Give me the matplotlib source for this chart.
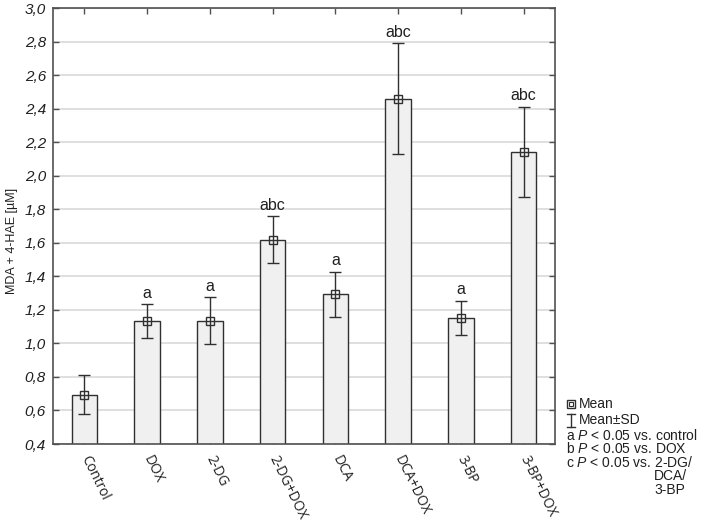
import matplotlib
matplotlib.use("Agg")
import matplotlib.pyplot as plt
from matplotlib.lines import Line2D
import numpy as np

plt.rcParams['font.family'] = ['Liberation Sans', 'DejaVu Sans']
plt.rcParams['mathtext.fontset'] = 'custom'
plt.rcParams['mathtext.it'] = 'Liberation Sans:italic'
plt.rcParams['mathtext.rm'] = 'Liberation Sans'

categories = ['Control', 'DOX', '2-DG', '2-DG+DOX', 'DCA', 'DCA+DOX', '3-BP', '3-BP+DOX']
means = [0.695, 1.132, 1.135, 1.618, 1.293, 2.460, 1.151, 2.143]
sds = [0.119, 0.101, 0.141, 0.139, 0.134, 0.330, 0.102, 0.268]
letters = ['', 'a', 'a', 'abc', 'a', 'abc', 'a', 'abc']
yticks = [0.4, 0.6, 0.8, 1.0, 1.2, 1.4, 1.6, 1.8, 2.0, 2.2, 2.4, 2.6, 2.8, 3.0]
ylabel = 'MDA + 4-HAE [\u00b5M]'
legend_lines = ['a $\\mathit{P}$ < 0.05 vs. control',
                'b $\\mathit{P}$ < 0.05 vs. DOX',
                'c $\\mathit{P}$ < 0.05 vs. 2-DG/']
legend_cont = ['DCA/', '3-BP']

W, H = 709, 526
fig = plt.figure(figsize=(W / 100, H / 100), dpi=100)
ax = fig.add_axes([53 / W, 1 - 444 / H, (555 - 53) / W, (444 - 8) / H])

spine_c = '#505050'
x = np.arange(len(categories))
ax.set_axisbelow(True)
ax.yaxis.grid(True, color='#d9d9d9', linewidth=1.2)
ax.bar(x, means, width=0.41, bottom=0, color='#f0f0f0', edgecolor='#303030', linewidth=1.0, zorder=2)
ax.errorbar(x, means, yerr=sds, fmt='s', markersize=5.5, markerfacecolor='none',
            markeredgecolor='#303030', markeredgewidth=1.0, ecolor='#303030',
            elinewidth=1.0, capsize=4, capthick=1.0, zorder=3)
for xi, m, s, lab in zip(x, means, sds, letters):
    if lab:
        ax.annotate(lab, (xi, m + s), xytext=(0, 2.5), textcoords='offset points',
                    ha='center', va='bottom', fontsize=11.5, color='#202020')

ax.set_xlim(-0.5, len(categories) - 0.5)
ax.set_ylim(0.4, 3.0)
ax.set_yticks(yticks)
ax.set_yticklabels([f'{v:.1f}'.replace('.', ',') for v in yticks],
                   fontsize=11, fontstyle='italic', color='#202020')
ax.set_xticks(x)
ax.set_xticklabels(categories, rotation=-64, ha='left', va='center',
                   rotation_mode='anchor', fontsize=10, family='Open Sans', color='#202020')
ax.tick_params(axis='both', direction='in', length=4, width=1, color=spine_c,
               top=True, right=True)
ax.tick_params(axis='x', pad=9)
ax.tick_params(axis='y', pad=5)
for sp in ax.spines.values():
    sp.set_color(spine_c)
    sp.set_linewidth(1.2)

fig.text(12 / W, 1 - 241 / H, ylabel, rotation=90, ha='center', va='center',
         fontsize=9, color='#202020')

# legend (manual, outside the axes)
def fy(py):
    return 1 - py / H

def fx(px):
    return px / W

fs_leg = 10
fig.add_artist(Line2D([fx(571)], [fy(404)], marker='s', markersize=5.5, markerfacecolor='none',
                      markeredgecolor='#303030', markeredgewidth=1.0, transform=fig.transFigure))
fig.add_artist(Line2D([fx(571)], [fy(404)], marker='s', markersize=2.8, markerfacecolor='none',
                      markeredgecolor='#303030', markeredgewidth=0.8, transform=fig.transFigure))
fig.text(fx(579), fy(404), 'Mean', ha='left', va='center', fontsize=fs_leg, color='#202020')
fig.add_artist(Line2D([fx(571), fx(571)], [fy(414), fy(427)], color='#303030', lw=1.0,
                      transform=fig.transFigure))
for yy in (414, 427):
    fig.add_artist(Line2D([fx(567), fx(575)], [fy(yy), fy(yy)], color='#303030', lw=1.0,
                          transform=fig.transFigure))
fig.text(fx(579), fy(420.5), 'Mean\u00b1SD', ha='left', va='center', fontsize=fs_leg, color='#202020')
for i, t in enumerate(legend_lines):
    fig.text(fx(566), fy(435 + 13.8 * i), t, ha='left', va='center', fontsize=fs_leg, color='#202020')
for i, t in enumerate(legend_cont):
    fig.text(fx(654), fy(476.5 + 13.0 * i), t, ha='left', va='center', fontsize=fs_leg, color='#202020')

fig.savefig('out.png', dpi=100)
